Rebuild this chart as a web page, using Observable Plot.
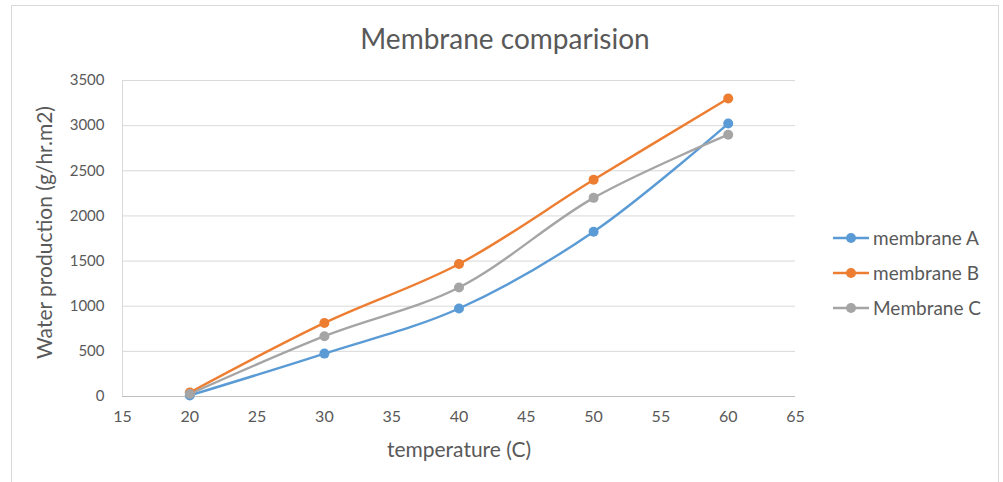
<!DOCTYPE html>
<html>
<head>
<meta charset="utf-8">
<script src="https://cdn.jsdelivr.net/npm/d3@7"></script>
<script src="https://cdn.jsdelivr.net/npm/@observablehq/plot@0.6"></script>
<style>
  html, body { margin: 0; padding: 0; background: #fff; }
  #wrap { position: relative; width: 1003px; height: 482px; overflow: hidden; font-family: Lato, "Open Sans", sans-serif; }
  #border { position: absolute; left: 11px; top: 5px; width: 988px; height: 500px; border: 1px solid #d9d9d9; box-sizing: border-box; }
  #legend { position: absolute; left: 832px; top: 220px; font-size: 19px; color: #595959; }
  .item { display: flex; align-items: center; height: 35px; }
  .item svg { margin-right: 3px; }
</style>
</head>
<body>
<div id="wrap"><div id="border"></div><div id="chart"></div><div id="legend"></div></div>
<script>
const temperature = [20, 30, 40, 50, 60];
const membraneA = [12, 475, 975, 1825, 3023];
const membraneB = [45, 815, 1468, 2400, 3300];
const membraneC = [28, 668, 1207, 2200, 2900];
const seriesNames = ["membrane A", "membrane B", "Membrane C"];
const seriesColors = ["#5b9bd5", "#ed7d31", "#a5a5a5"];
const xTicks = [15, 20, 25, 30, 35, 40, 45, 50, 55, 60, 65];
const yTicks = [0, 500, 1000, 1500, 2000, 2500, 3000, 3500];

const allSeries = [membraneA, membraneB, membraneC];
const data = allSeries.flatMap((vals, i) =>
  temperature.map((t, j) => ({ series: seriesNames[i], temperature: t, value: vals[j] })));

const textColor = "#595959";
const fmt = d3.format("d");
const chart = Plot.plot({
  width: 1003,
  height: 482,
  marginLeft: 122,
  marginRight: 208,
  marginTop: 80,
  marginBottom: 86,
  style: { fontFamily: "Lato, 'Open Sans', sans-serif", background: "transparent", color: textColor },
  x: { domain: [15, 65], ticks: xTicks, label: null },
  y: { domain: [0, 3500], ticks: yTicks, label: null },
  color: { domain: seriesNames, range: seriesColors },
  marks: [
    Plot.gridY(yTicks.filter(d => d > 0), { stroke: "#d9d9d9", strokeOpacity: 1, strokeWidth: 1 }),
    Plot.ruleY([0], { stroke: "#bfbfbf", strokeWidth: 1 }),
    Plot.ruleX([15], { stroke: "#d9d9d9", strokeWidth: 1 }),
    Plot.axisX(xTicks, { tickSize: 0, tickPadding: 14, fontSize: 16, fill: textColor, label: null, tickFormat: fmt }),
    Plot.axisY(yTicks, { tickSize: 0, tickPadding: 18, fontSize: 15, fill: textColor, label: null, tickFormat: fmt }),
    Plot.line(data, { x: "temperature", y: "value", stroke: "series", z: "series", strokeWidth: 2.4, curve: "catmull-rom" }),
    Plot.dot(data, { x: "temperature", y: "value", fill: "series", r: 5, stroke: null }),
    Plot.text(["Membrane comparision"], { frameAnchor: "top", dx: 46, dy: -51, fontSize: 28, fill: textColor }),
    Plot.text(["temperature (C)"], { frameAnchor: "bottom", dy: 60, fontSize: 21, fill: textColor }),
    Plot.text(["Water production (g/hr.m2)"], { frameAnchor: "left", textAnchor: "middle", dx: -77, dy: -6, rotate: -90, fontSize: 21, fill: textColor })
  ]
});
document.getElementById("chart").appendChild(chart);

const legend = document.getElementById("legend");
seriesNames.forEach((name, i) => {
  const div = document.createElement("div");
  div.className = "item";
  div.innerHTML = `<svg width="38" height="12"><line x1="1" y1="6" x2="37" y2="6" stroke="${seriesColors[i]}" stroke-width="2.4"/><circle cx="19" cy="6" r="5" fill="${seriesColors[i]}"/></svg><span>${name}</span>`;
  legend.appendChild(div);
});
</script>
</body>
</html>
